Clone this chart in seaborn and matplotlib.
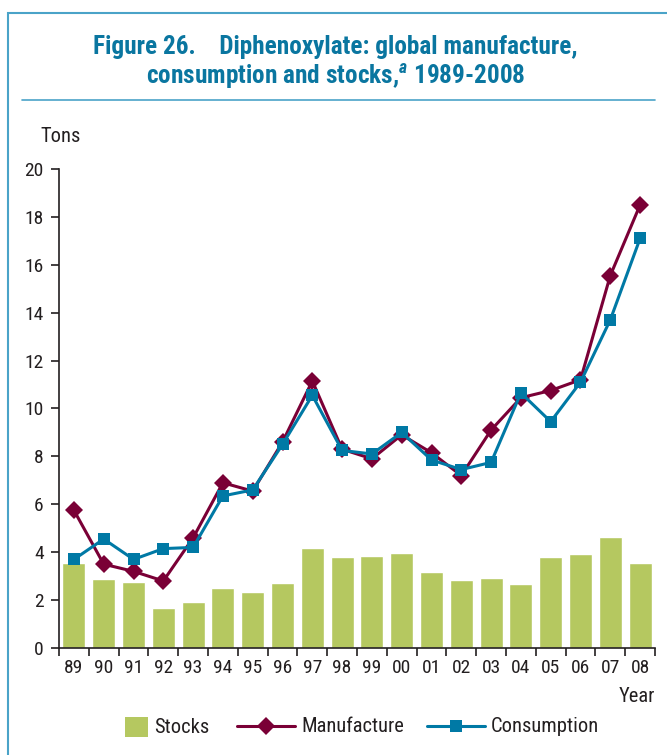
import numpy as np
import pandas as pd
import matplotlib
matplotlib.use("Agg")
import matplotlib.pyplot as plt
from matplotlib.patches import Patch, Rectangle
from matplotlib.lines import Line2D
import seaborn as sns

years = ["89", "90", "91", "92", "93", "94", "95", "96", "97", "98",
         "99", "00", "01", "02", "03", "04", "05", "06", "07", "08"]
stocks = [3.55, 2.88, 2.76, 1.67, 1.92, 2.5, 2.34, 2.71, 4.17, 3.8,
          3.84, 3.97, 3.17, 2.84, 2.92, 2.67, 3.8, 3.92, 4.63, 3.55]
manufacture = [5.75, 3.5, 3.2, 2.8, 4.6, 6.9, 6.55, 8.6, 11.15, 8.3,
               7.9, 8.9, 8.15, 7.2, 9.1, 10.45, 10.75, 11.2, 15.55, 18.5]
consumption = [3.7, 4.55, 3.7, 4.15, 4.2, 6.35, 6.6, 8.5, 10.55, 8.25,
               8.1, 9.0, 7.85, 7.45, 7.75, 10.65, 9.45, 11.1, 13.7, 17.1]
yticks = [0, 2, 4, 6, 8, 10, 12, 14, 16, 18, 20]

sns.set_style("white")
plt.rcParams['font.family'] = ['Roboto Condensed', 'DejaVu Sans']
plt.rcParams['mathtext.fontset'] = 'custom'
plt.rcParams['mathtext.it'] = 'Roboto Condensed:italic:bold'

C_BAR = "#b5c860"
C_MAN = "#7a0036"
C_CON = "#0079a5"
C_TITLE = "#0a76a0"
C_FRAME = "#4aa3c8"
C_TEXT = "#231f20"
FS_TICK = 14
FS = 14.8

fig = plt.figure(figsize=(6.67, 7.55), dpi=100)
ax = fig.add_axes([0.0885, 0.1417, 0.8935, 0.6345])

df = pd.DataFrame({"Year": years, "Stocks": stocks,
                   "Manufacture": manufacture, "Consumption": consumption})
df["pos"] = np.arange(len(years))

sns.barplot(data=df, x="Year", y="Stocks", color=C_BAR, saturation=1,
            width=0.77, ax=ax, zorder=1)
sns.lineplot(data=df, x="pos", y="Manufacture", color=C_MAN, lw=2.2,
             marker="D", markersize=9.3, markeredgewidth=0, ax=ax, zorder=3)
sns.lineplot(data=df, x="pos", y="Consumption", color=C_CON, lw=2.2,
             marker="s", markersize=9.1, markeredgewidth=0, ax=ax, zorder=4)

ax.set_xlim(-0.47, len(years) - 0.53)
ax.set_ylim(0, 20)
ax.set_yticks(yticks)
ax.set_yticklabels([str(v) for v in yticks])
ax.set_xticks(np.arange(len(years)))
ax.set_xticklabels(years)
ax.set_xticks(np.arange(len(years) + 1) - 0.5, minor=True)
ax.tick_params(axis="x", which="major", length=0, pad=8, labelsize=FS_TICK, colors=C_TEXT)
ax.tick_params(axis="x", which="minor", length=6, width=1.2, direction="out", color=C_TEXT)
ax.tick_params(axis="y", length=6, width=1.2, direction="out", pad=5, labelsize=FS_TICK, colors=C_TEXT)
ax.xaxis.set_ticks_position("bottom")
ax.yaxis.set_ticks_position("left")
ax.set_xlabel("")
ax.set_ylabel("")
for s in ["top", "right"]:
    ax.spines[s].set_visible(False)
for s in ["left", "bottom"]:
    ax.spines[s].set_color(C_TEXT)
    ax.spines[s].set_linewidth(1.2)

fig.text(40 / 667, 1 - 137 / 755, "Tons", fontsize=FS, color=C_TEXT,
         ha="left", va="center")
fig.text(655 / 667, 1 - 697 / 755, "Year", fontsize=FS, color=C_TEXT,
         ha="right", va="center")

# Title
fig.text(0.503, 1 - 47 / 755, "Figure 26.    Diphenoxylate: global manufacture,",
         fontsize=18.2, fontweight="bold", color=C_TITLE, ha="center", va="center")
fig.text(0.503, 1 - 77 / 755, r"consumption and stocks,$^{a}$ 1989-2008",
         fontsize=18.2, fontweight="bold", color=C_TITLE, ha="center", va="center")

# Frame and rule
fig.add_artist(Rectangle((8 / 667, -0.1), 1.2, 1 - 13 / 755 + 0.1,
                         transform=fig.transFigure, fill=False,
                         edgecolor=C_FRAME, lw=1.5))
fig.add_artist(Line2D([22 / 667, 655 / 667], [1 - 100 / 755, 1 - 100 / 755],
                      transform=fig.transFigure, color=C_FRAME, lw=1.2))

# Legend (three parts for exact spacing)
ly = 1 - 727 / 755
em = FS * 100 / 72.0
items = [
    (Patch(facecolor=C_BAR, edgecolor="none"), "Stocks", 125, 23, 23),
    (Line2D([], [], color=C_MAN, lw=2.2, marker="D", markersize=9.3, markeredgewidth=0),
     "Manufacture", 237, 58, 10),
    (Line2D([], [], color=C_CON, lw=2.2, marker="s", markersize=9.1, markeredgewidth=0),
     "Consumption", 427, 58, 10),
]
for h, lab, x0, hw, hh in items:
    fig.legend([h], [lab], loc="center left", bbox_to_anchor=(x0 / 667, ly),
               frameon=False, fontsize=FS, handlelength=hw / em,
               handleheight=hh / em, handletextpad=6 / em, borderpad=0,
               borderaxespad=0, labelcolor=C_TEXT)

fig.savefig("out.png", dpi=100)
